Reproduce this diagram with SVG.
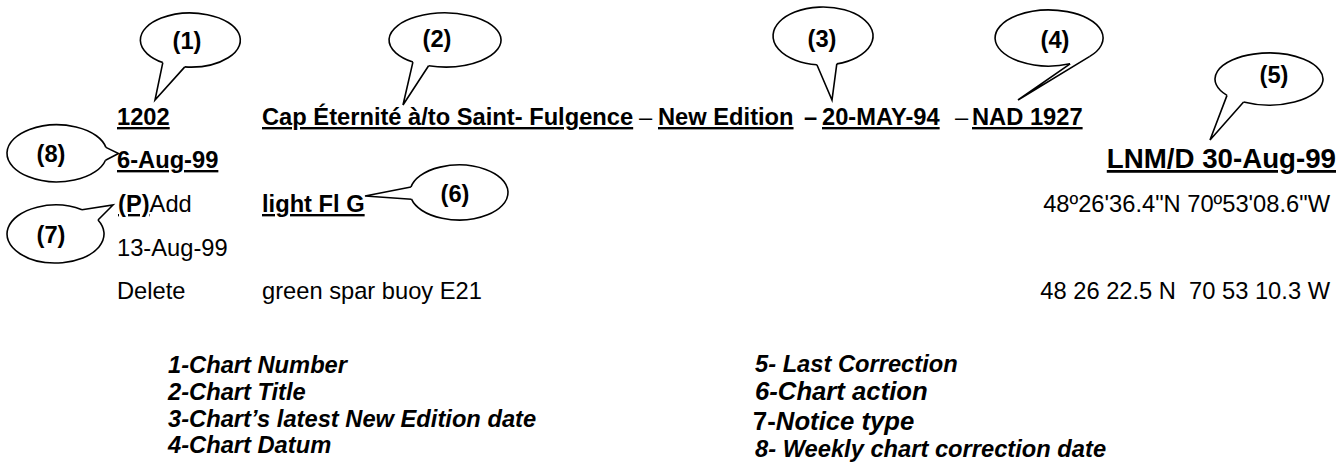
<svg xmlns="http://www.w3.org/2000/svg" width="1341" height="465" viewBox="0 0 1341 465">
<style>
text{font-family:"Liberation Sans",Arial,sans-serif;font-size:23.7px;fill:#000}
.b{font-weight:bold}
.u{text-decoration:underline}
.lbl{font-weight:bold;text-anchor:middle}
.lg{font-weight:bold;font-style:italic}
.big{font-size:25.7px}
.end{text-anchor:end}
.shape{fill:#fff;stroke:#000;stroke-width:1.6}
.tail{fill:none;stroke:#000;stroke-width:1.6;stroke-linejoin:miter}
</style>
<rect width="1341" height="465" fill="#fff"/>

<g id="callout1"><path class="shape" d="M162.8,62.6 A50,27 0 1 1 184.8,66.9"/><text class="lbl" x="187" y="48.5">(1)</text></g>
<g id="callout2"><path class="shape" d="M412.9,62.1 A56,27 0 1 1 428.6,65.8"/><text class="lbl" x="437" y="47">(2)</text></g>
<g id="callout3"><path class="shape" d="M816.9,64.8 A50,29 0 1 1 836.8,63.9"/><text class="lbl" x="822" y="47">(3)</text></g>
<g id="callout4"><path class="shape" d="M1070.1,63.8 A54,28 0 1 1 1089.8,56.4"/><text class="lbl" x="1055" y="48">(4)</text></g>
<g id="callout5"><path class="shape" d="M1227,95.4 A54,26 0 1 1 1243.6,102"/><text class="lbl" x="1274" y="83">(5)</text></g>
<g id="callout6"><path class="shape" d="M411,187 A49,27.5 0 1 1 411.5,199.2"/><text class="lbl" x="455" y="202">(6)</text></g>
<g id="callout7"><path class="shape" d="M98,220 A48.5,29 0 1 1 82,209.7"/><text class="lbl" x="51" y="243">(7)</text></g>
<g id="callout8"><path class="shape" d="M105.5,160.2 A50,28.5 0 1 1 105.9,147.4"/><text class="lbl" x="51" y="162">(8)</text></g>

<g id="connectors">
<polyline class="tail" points="184.8,66.9 155,100 162.8,62.6"/>
<polyline class="tail" points="428.6,65.8 403,105 412.9,62.1"/>
<polyline class="tail" points="836.8,63.9 832,100 816.9,64.8"/>
<polyline class="tail" points="1089.8,56.4 1018,100 1070.1,63.8"/>
<polyline class="tail" points="1243.6,102 1210,140 1227,95.4"/>
<polyline class="tail" points="411.5,199.2 365,196 411,187"/>
<polyline class="tail" points="82,209.7 113,205 98,220"/>
<polyline class="tail" points="105.9,147.4 118.5,153.5 105.5,160.2"/>
</g>

<g id="record">
<text class="b u" x="117" y="125">1202</text>
<text class="b u" x="262" y="125">Cap Éternité à/to Saint- Fulgence</text>
<text x="639" y="125">–</text>
<text class="b u" x="658" y="125">New Edition</text>
<text class="b" x="804" y="125">–</text>
<text class="b u" x="822" y="125">20-MAY-94</text>
<text x="955" y="125">–</text>
<text class="b u" x="972" y="125">NAD 1927</text>

<text class="b u" x="117" y="168">6-Aug-99</text>
<text class="b u end" x="1336" y="168" style="font-size:27.7px">LNM/D 30-Aug-99</text>

<text x="118" y="212"><tspan class="b u">(P)</tspan>Add</text>
<text class="b u" x="262" y="212">light Fl G</text>
<text class="end" x="1330" y="212">48º26'36.4"N 70º53'08.6"W</text>

<text x="117" y="256">13-Aug-99</text>

<text x="117" y="299">Delete</text>
<text x="262" y="299">green spar buoy E21</text>
<text class="end" x="1330" y="299" style="white-space:pre">48 26 22.5 N  70 53 10.3 W</text>
</g>

<g id="legend">
<text class="lg" x="168" y="373">1-Chart Number</text>
<text class="lg" x="168" y="400">2-Chart Title</text>
<text class="lg" x="168" y="427">3-Chart’s latest New Edition date</text>
<text class="lg" x="168" y="453">4-Chart Datum</text>
<text class="lg" x="755" y="372">5- Last Correction</text>
<text class="lg big" x="755" y="400">6-Chart action</text>
<text class="lg big" x="753" y="430"><tspan style="font-style:normal">7-</tspan>Notice type</text>
<text class="lg" x="755" y="457">8- Weekly chart correction date</text>
</g>
</svg>
